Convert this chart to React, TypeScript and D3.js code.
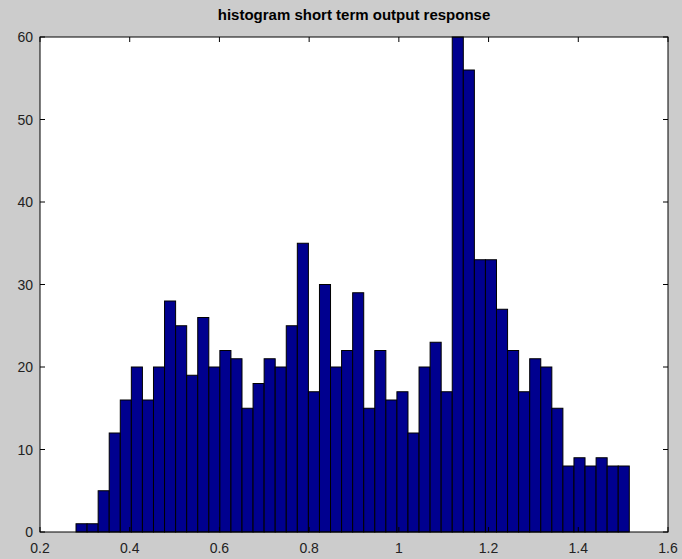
import React from "react";
import * as d3 from "d3";

const counts: number[] = [
  1, 1, 5, 12, 16, 20, 16, 20, 28, 25,
  19, 26, 20, 22, 21, 15, 18, 21, 20, 25,
  35, 17, 30, 20, 22, 29, 15, 22, 16, 17,
  12, 20, 23, 17, 60, 56, 33, 33, 27, 22,
  17, 21, 20, 15, 8, 9, 8, 9, 8, 8,
];
const binMin = 0.2803;
const binMax = 1.5137;
const xTicks: number[] = [0.2, 0.4, 0.6, 0.8, 1, 1.2, 1.4, 1.6];
const yTicks: number[] = [0, 10, 20, 30, 40, 50, 60];
const titleText = "histogram short term output response";

const W = 682;
const H = 559;
const M = { left: 40, right: 668, top: 37, bottom: 532 };

export default function App() {
  const x = d3.scaleLinear().domain([0.2, 1.6]).range([M.left, M.right]);
  const y = d3.scaleLinear().domain([0, 60]).range([M.bottom, M.top]);
  const bw = (binMax - binMin) / counts.length;
  const fmt = (v: number) => (v === 1 ? "1" : d3.format(".1f")(v));
  const font = "'Liberation Sans', Arial, Helvetica, sans-serif";
  const tickLen = 5;
  return (
    <svg
      width={W}
      height={H}
      style={{ position: "fixed", left: 0, top: 0, background: "#cccccc" }}
    >
      <rect x={0} y={0} width={W} height={H} fill="#cccccc" />
      <rect
        x={M.left}
        y={M.top}
        width={M.right - M.left}
        height={M.bottom - M.top}
        fill="#ffffff"
      />
      {counts.map((c, i) => {
        const x0 = binMin + i * bw;
        const x1 = x0 + bw;
        return (
          <rect
            key={i}
            x={x(x0)}
            y={y(c)}
            width={x(x1) - x(x0)}
            height={y(0) - y(c)}
            fill="#00008f"
            stroke="#000000"
            strokeWidth={1}
          />
        );
      })}
      {xTicks.map((t, i) => (
        <g key={"xt" + i}>
          <line x1={x(t)} x2={x(t)} y1={M.bottom} y2={M.bottom - tickLen} stroke="#000" />
          <line x1={x(t)} x2={x(t)} y1={M.top} y2={M.top + tickLen} stroke="#000" />
          <text
            x={x(t)}
            y={M.bottom + 21}
            textAnchor="middle"
            fontFamily={font}
            fontSize={14}
            fill="#222"
          >
            {fmt(t)}
          </text>
        </g>
      ))}
      {yTicks.map((t, i) => (
        <g key={"yt" + i}>
          <line x1={M.left} x2={M.left + tickLen} y1={y(t)} y2={y(t)} stroke="#000" />
          <line x1={M.right} x2={M.right - tickLen} y1={y(t)} y2={y(t)} stroke="#000" />
          <text
            x={M.left - 7}
            y={y(t) + 5}
            textAnchor="end"
            fontFamily={font}
            fontSize={14}
            fill="#222"
          >
            {t}
          </text>
        </g>
      ))}
      <rect
        x={M.left}
        y={M.top}
        width={M.right - M.left}
        height={M.bottom - M.top}
        fill="none"
        stroke="#000"
        strokeWidth={1}
      />
      <text
        x={(M.left + M.right) / 2}
        y={20}
        textAnchor="middle"
        fontFamily={font}
        fontSize={15}
        fontWeight="bold"
        fill="#000"
      >
        {titleText}
      </text>
    </svg>
  );
}
